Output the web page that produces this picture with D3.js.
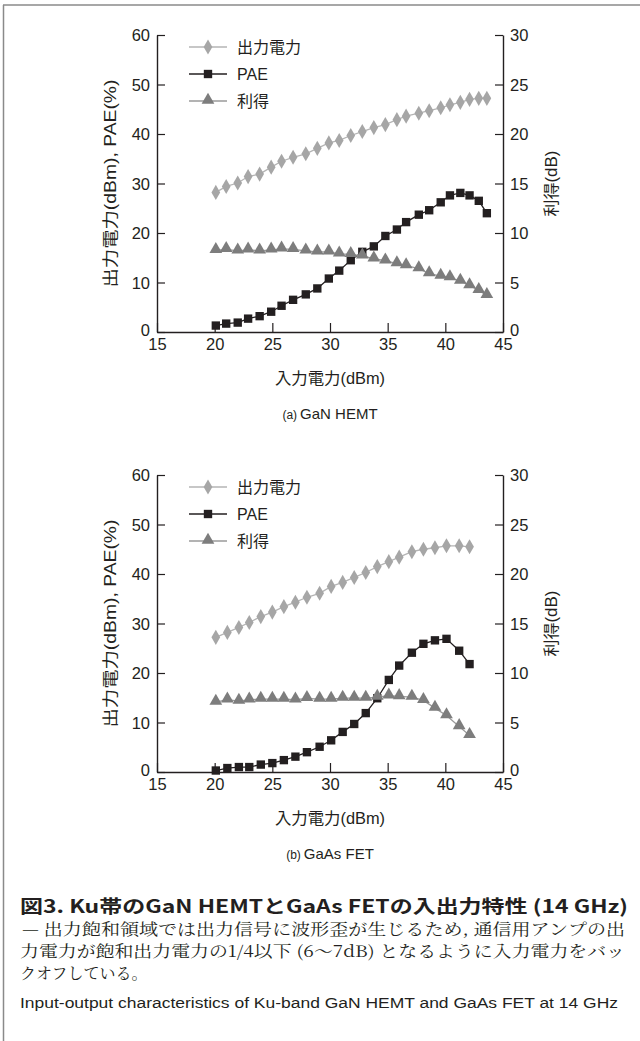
<!DOCTYPE html>
<html>
<head>
<meta charset="utf-8">
<script src="https://cdn.jsdelivr.net/npm/d3@7"></script>
<style>
  body { margin: 0; background: #fff; }
  svg { display: block; }
  .tick text { font-family: "Liberation Sans", Arial, sans-serif; font-size: 16.5px; fill: #231f20; }
  .jp { font-family: "Liberation Sans", "Noto Sans CJK JP", sans-serif; fill: #231f20; }
</style>
</head>
<body>
<svg id="fig" width="640" height="1041"></svg>
<script>
// x-axis ticks / y ticks
const xTicks = [15, 20, 25, 30, 35, 40, 45]
const leftTicks = [0, 10, 20, 30, 40, 50, 60]
const rightTicks = [0, 5, 10, 15, 20, 25, 30]

const seriesNames = ["出力電力", "PAE", "利得"]

// (a) GaN HEMT
const ganPin = [20.1, 21.0, 22.0, 22.9, 23.9, 24.9, 25.8, 26.8, 27.9, 28.9, 29.9, 30.8, 31.8, 32.8, 33.8, 34.8, 35.8, 36.6, 37.7, 38.6, 39.6, 40.4, 41.3, 42.1, 42.9, 43.6]
const ganPout = [28.2, 29.4, 30.1, 31.4, 31.9, 33.3, 34.5, 35.3, 36.0, 37.1, 38.2, 38.7, 39.7, 40.5, 41.3, 41.9, 42.9, 43.6, 44.2, 44.7, 45.3, 45.9, 46.4, 47.0, 47.2, 47.2]
const ganPae = [1.3, 1.7, 1.9, 2.7, 3.2, 4.1, 5.3, 6.5, 7.6, 8.8, 10.8, 12.4, 14.5, 16.2, 17.3, 19.4, 20.7, 22.2, 23.7, 24.6, 26.2, 27.6, 28.1, 27.6, 26.5, 24.0]
const ganGain = [8.25, 8.35, 8.2, 8.3, 8.2, 8.3, 8.4, 8.35, 8.2, 8.1, 8.1, 7.9, 7.85, 7.7, 7.4, 7.2, 6.9, 6.7, 6.4, 5.9, 5.65, 5.5, 5.15, 4.7, 4.2, 3.7]

// (b) GaAs FET
const gaasPin = [20.1, 21.1, 22.1, 23.0, 24.0, 25.0, 26.0, 27.0, 28.0, 29.1, 30.1, 31.1, 32.1, 33.1, 34.1, 35.1, 36.0, 37.1, 38.1, 39.1, 40.1, 41.2, 42.1]
const gaasPout = [27.2, 28.2, 29.2, 30.2, 31.4, 32.3, 33.4, 34.3, 35.3, 36.1, 37.5, 38.3, 39.3, 40.3, 41.5, 42.5, 43.4, 44.5, 45.0, 45.3, 45.7, 45.7, 45.5]
const gaasPae = [0.3, 0.8, 1.0, 1.0, 1.5, 1.8, 2.4, 3.1, 4.0, 5.1, 6.4, 8.1, 9.7, 11.9, 14.9, 18.6, 21.5, 24.1, 25.9, 26.6, 26.9, 24.5, 21.8]
const gaasGain = [7.06, 7.3, 7.16, 7.3, 7.36, 7.36, 7.36, 7.3, 7.43, 7.36, 7.36, 7.46, 7.46, 7.46, 7.56, 7.7, 7.63, 7.56, 7.23, 6.45, 5.7, 4.6, 3.7]

const svg = d3.select("#fig")
const ink = "#231f20"
const styles = [
  {line: "#b4b4b4", fill: "#a6a6a6", shape: d3.symbolDiamond, size: 66, dy: 0},
  {line: "#231f20", fill: "#231f20", shape: d3.symbolSquare, size: 70, dy: 0},
  {line: "#9a9a9a", fill: "#7d7d7d", shape: d3.symbolTriangle, size: 70, dy: -1}
]

// frame
svg.append("line").attr("x1", 3.5).attr("x2", 3.5).attr("y1", 5).attr("y2", 1041)
  .attr("stroke", "#8a8a8a").attr("stroke-width", 1.5)
svg.append("line").attr("x1", 3).attr("x2", 640).attr("y1", 5).attr("y2", 5)
  .attr("stroke", "#8a8a8a").attr("stroke-width", 1.5)

function drawChart(top, pin, pout, pae, gain, subLabel, subText) {
  const left = 157, right = 503, bottom = top + 297
  const x = d3.scaleLinear().domain([15, 45]).range([left, right])
  const yL = d3.scaleLinear().domain([0, 60]).range([bottom, top])
  const yR = d3.scaleLinear().domain([0, 30]).range([bottom, top])
  const g = svg.append("g")

  const xAxis = g.append("g").attr("transform", `translate(0,${bottom})`)
    .call(d3.axisBottom(x).tickValues(xTicks).tickSizeInner(-9).tickSizeOuter(0).tickPadding(5))
  const lAxis = g.append("g").attr("transform", `translate(${left},0)`)
    .call(d3.axisLeft(yL).tickValues(leftTicks).tickSizeInner(-8).tickSizeOuter(0).tickPadding(7))
  const rAxis = g.append("g").attr("transform", `translate(${right},0)`)
    .call(d3.axisRight(yR).tickValues(rightTicks).tickSizeInner(-8).tickSizeOuter(0).tickPadding(7))
  ;[xAxis, lAxis, rAxis].forEach(a => {
    a.select(".domain").attr("stroke", ink).attr("stroke-width", 1.4)
    a.selectAll(".tick line").attr("stroke", ink).attr("stroke-width", 1.2)
  })
  xAxis.selectAll(".tick text").attr("dy", "0.8em")
  lAxis.selectAll(".tick text").attr("dy", d => d === 0 ? "0.2em" : "0.36em")
  rAxis.selectAll(".tick text").attr("dy", d => d === 0 ? "0.2em" : "0.36em")

  const sets = [
    {vals: pout, y: yL},
    {vals: pae, y: yL},
    {vals: gain, y: yR}
  ]
  sets.forEach((s, i) => {
    const st = styles[i]
    const pts = pin.map((p, k) => [x(p), s.y(s.vals[k])])
    g.append("path").attr("d", d3.line()(pts))
      .attr("fill", "none").attr("stroke", st.line).attr("stroke-width", 1.3)
    g.selectAll(null).data(pts).join("path")
      .attr("transform", d => `translate(${d[0]},${d[1] + st.dy})`)
      .attr("d", d3.symbol().type(st.shape).size(st.size))
      .attr("fill", st.fill)
  })

  // legend
  seriesNames.forEach((name, i) => {
    const st = styles[i]
    const ly = top + 12 + i * 27
    g.append("line").attr("x1", 189).attr("x2", 227).attr("y1", ly).attr("y2", ly)
      .attr("stroke", st.line).attr("stroke-width", 1.3)
    g.append("path").attr("transform", `translate(208,${ly + st.dy})`)
      .attr("d", d3.symbol().type(st.shape).size(st.size)).attr("fill", st.fill)
    g.append("text").attr("class", "jp").attr("x", 237).attr("y", ly).attr("dy", "0.36em")
      .style("font-size", "16px").text(name)
  })

  // axis titles
  g.append("text").attr("class", "jp").attr("x", (left + right) / 2).attr("y", bottom + 52)
    .attr("text-anchor", "middle").style("font-size", "16px")
    .attr("textLength", 110).attr("lengthAdjust", "spacingAndGlyphs").text("入力電力(dBm)")
  g.append("text").attr("class", "jp")
    .attr("transform", `translate(116,${(top + bottom) / 2}) rotate(-90)`)
    .attr("text-anchor", "middle").style("font-size", "16px")
    .attr("textLength", 208).attr("lengthAdjust", "spacingAndGlyphs").text("出力電力(dBm), PAE(%)")
  g.append("text").attr("class", "jp")
    .attr("transform", `translate(557,${(top + bottom) / 2}) rotate(-90)`)
    .attr("text-anchor", "middle").style("font-size", "16px")
    .attr("textLength", 66).attr("lengthAdjust", "spacingAndGlyphs").text("利得(dB)")

  const sub = g.append("text").attr("class", "jp").attr("x", 330).attr("y", bottom + 87)
    .attr("text-anchor", "middle").style("font-size", "15px")
  sub.append("tspan").style("font-size", "12px").text(subLabel)
  sub.append("tspan").attr("dx", 3).text(subText)
}

drawChart(35, ganPin, ganPout, ganPae, ganGain, "(a)", "GaN HEMT")
drawChart(475, gaasPin, gaasPout, gaasPae, gaasGain, "(b)", "GaAs FET")

// caption
const cap = svg.append("g")
cap.append("text").attr("class", "jp").attr("x", 20).attr("y", 913)
  .attr("textLength", 608).attr("lengthAdjust", "spacingAndGlyphs")
  .style("font-family", "'Noto Sans CJK JP', sans-serif")
  .style("font-size", "18px").style("font-weight", "bold")
  .text("図3.  Ku帯のGaN HEMTとGaAs FETの入出力特性 (14 GHz)")
const body = [
  {t: "— 出力飽和領域では出力信号に波形歪が生じるため, 通信用アンプの出", x: 22, w: 603},
  {t: "力電力が飽和出力電力の1/4以下 (6～7dB) となるように入力電力をバッ", x: 20, w: 605},
  {t: "クオフしている。", x: 20, w: 0}
]
body.forEach((b, i) => {
  const t = cap.append("text").attr("class", "jp").attr("x", b.x).attr("y", 935 + i * 22)
    .style("font-family", "'Noto Serif CJK JP', 'Noto Sans CJK JP', serif")
    .style("font-size", "16px").text(b.t)
  if (b.w) t.attr("textLength", b.w).attr("lengthAdjust", "spacingAndGlyphs")
})
cap.append("text").attr("x", 20).attr("y", 1008)
  .attr("textLength", 598).attr("lengthAdjust", "spacingAndGlyphs")
  .style("font-family", "'Liberation Sans Narrow', 'Liberation Sans', Arial, sans-serif")
  .style("font-size", "14px").attr("fill", ink)
  .text("Input-output characteristics of Ku-band GaN HEMT and GaAs FET at 14 GHz")
</script>
</body>
</html>
